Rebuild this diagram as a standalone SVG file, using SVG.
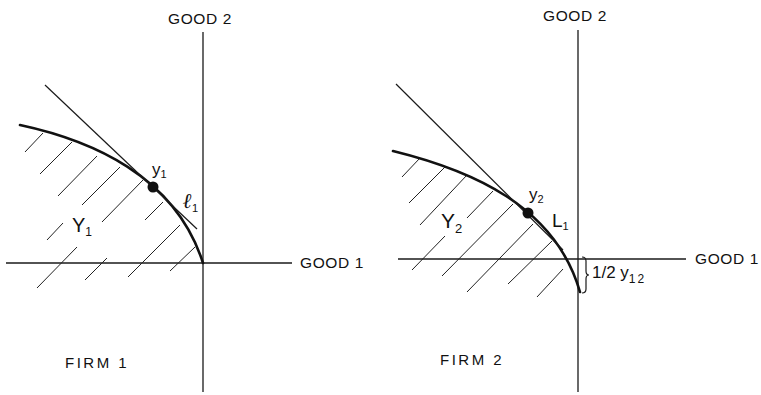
<svg xmlns="http://www.w3.org/2000/svg" width="761" height="395" viewBox="0 0 761 395">
<style>
  .axis { stroke: #1a1a1a; stroke-width: 1.3; fill: none; }
  .frontier { stroke: #111; stroke-width: 2.6; fill: none; stroke-linecap: round; }
  .tangent { stroke: #1a1a1a; stroke-width: 1.2; fill: none; }
  .hatch { stroke: #222; stroke-width: 1; fill: none; }
  .dot { fill: #111; }
  .lbl { font-family: "Liberation Sans", Arial, sans-serif; fill: #111; }
  .axlbl { font-size: 15.5px; letter-spacing: 0.6px; }
  .firm { font-size: 15px; letter-spacing: 2.5px; }
  .script { font-family: "DejaVu Serif", "Liberation Serif", serif; font-style: italic; font-weight: bold; fill: #111; }
</style>
<rect width="761" height="395" fill="#ffffff"/>

<g id="firm1">
  <g id="firm1-axes">
    <line class="axis" x1="203" y1="32" x2="203" y2="392"/>
    <line class="axis" x1="6" y1="263" x2="292" y2="263"/>
  </g>
  <g id="firm1-hatch">
    <line class="hatch" x1="25" y1="152" x2="43" y2="133"/>
    <line class="hatch" x1="40" y1="174" x2="72" y2="142"/>
    <line class="hatch" x1="58" y1="196" x2="97" y2="156"/>
    <line class="hatch" x1="47" y1="240" x2="63" y2="223"/>
    <line class="hatch" x1="82" y1="205" x2="120" y2="167"/>
    <line class="hatch" x1="37" y1="288" x2="77" y2="247"/>
    <line class="hatch" x1="102" y1="222" x2="143" y2="180"/>
    <line class="hatch" x1="85" y1="280" x2="107" y2="258"/>
    <line class="hatch" x1="145" y1="220" x2="163" y2="202"/>
    <line class="hatch" x1="128" y1="277" x2="180" y2="225"/>
    <line class="hatch" x1="170" y1="271" x2="195" y2="247"/>
  </g>
  <path id="firm1-frontier" class="frontier" d="M20,125 C90,140 175,175 203,263"/>
  <line id="firm1-tangent" class="tangent" x1="45" y1="85" x2="197" y2="229"/>
  <circle id="firm1-point" class="dot" cx="153" cy="187" r="5.5"/>
  <g id="firm1-labels">
    <text class="lbl axlbl" x="168" y="24">GOOD 2</text>
    <text class="lbl axlbl" x="300" y="268">GOOD 1</text>
    <text class="lbl" x="152" y="175" font-size="17">y<tspan font-size="11" dy="3">1</tspan></text>
    <text class="script" x="183" y="208" font-size="21">ℓ<tspan font-family="Liberation Sans, sans-serif" font-style="normal" font-weight="normal" font-size="11" dy="4">1</tspan></text>
    <text class="lbl" x="72" y="232" font-size="20">Y<tspan font-size="12" dy="4">1</tspan></text>
    <text class="lbl firm" x="65" y="368">FIRM 1</text>
  </g>
</g>

<g id="firm2">
  <g id="firm2-axes">
    <line class="axis" x1="578" y1="30" x2="578" y2="392"/>
    <line class="axis" x1="398" y1="259" x2="686" y2="259"/>
  </g>
  <g id="firm2-hatch">
    <line class="hatch" x1="402" y1="177" x2="420" y2="158"/>
    <line class="hatch" x1="409" y1="203" x2="445" y2="167"/>
    <line class="hatch" x1="420" y1="225" x2="467" y2="175"/>
    <line class="hatch" x1="412" y1="270" x2="445" y2="236"/>
    <line class="hatch" x1="467" y1="218" x2="493" y2="191"/>
    <line class="hatch" x1="442" y1="276" x2="513" y2="204"/>
    <line class="hatch" x1="467" y1="292" x2="533" y2="224"/>
    <line class="hatch" x1="508" y1="284" x2="552" y2="241"/>
    <line class="hatch" x1="537" y1="297" x2="563" y2="269"/>
  </g>
  <path id="firm2-frontier" class="frontier" d="M393,151 C470,170 555,205 580,292"/>
  <line id="firm2-tangent" class="tangent" x1="396" y1="84" x2="563" y2="250"/>
  <circle id="firm2-point" class="dot" cx="528" cy="213" r="5.5"/>
  <path id="firm2-brace" class="tangent" d="M582,257 Q586,257 586,261 L586,271 Q586,275 589,275 Q586,275 586,279 L586,289 Q586,293 582,293"/>
  <g id="firm2-labels">
    <text class="lbl axlbl" x="543" y="21">GOOD 2</text>
    <text class="lbl axlbl" x="695" y="264">GOOD 1</text>
    <text class="lbl" x="529" y="200" font-size="17">y<tspan font-size="11" dy="3">2</tspan></text>
    <text class="lbl" x="552" y="227" font-size="19">L<tspan font-size="11" dy="3">1</tspan></text>
    <text class="lbl" x="441" y="228" font-size="21">Y<tspan font-size="13" dy="5">2</tspan></text>
    <text class="lbl" x="592" y="278" font-size="17">1/2 y<tspan font-size="12" dy="5" letter-spacing="2">12</tspan></text>
    <text class="lbl firm" x="440" y="365">FIRM 2</text>
  </g>
</g>
</svg>
